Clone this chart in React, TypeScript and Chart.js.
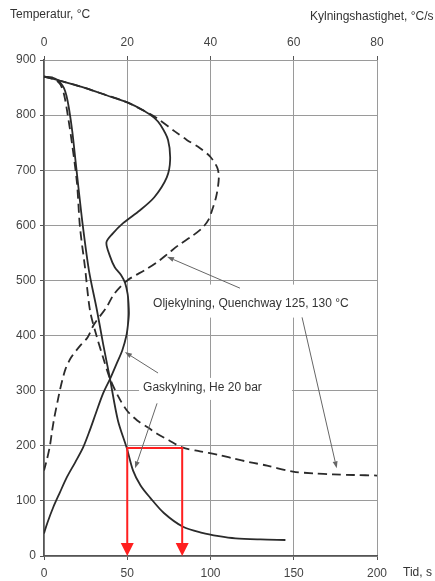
import React, { useEffect, useRef } from 'react';
import { Chart, registerables } from 'chart.js';

Chart.register(...registerables);

// ---- Axis ranges / ticks ----
const timeMax = 200;
const timeStep = 50;
const rateMax = 80;
const rateStep = 20;
const tempMax = 900;
const tempStep = 100;

// ---- Temperature vs time (bottom axis, s) ----
const gasTime = [0, 5, 8, 10, 12, 13.5, 15, 17, 19, 21, 23.4, 27, 31.8, 35.5, 39.6, 44.4, 49.8, 53.5, 58, 63.7, 72, 83.5, 95, 105, 115, 130, 145];
const gasTemp = [870, 868, 864, 858, 849, 835, 812, 770, 715, 660, 597, 518, 446, 385, 322, 246, 195, 155, 128, 106, 78, 53, 42, 36, 32, 30, 29];

const oilTime = [0, 5, 8, 10, 12, 13.8, 16.8, 19.8, 21.6, 24.6, 27.6, 31.5, 35.5, 39.6, 44.5, 49.8, 56, 62.5, 67.9, 75, 83, 93.7, 105.7, 113.5, 124, 134, 149.5, 162, 173.6, 186, 200];
const oilTemp = [870, 868, 862, 855, 838, 809, 749, 677, 597, 524, 446, 400, 360, 322, 290, 264, 246, 233, 222, 210, 197, 190, 183, 177, 170, 164, 153, 150, 148, 147, 146];

// ---- Temperature vs cooling rate (top axis, °C/s) ----
const gasRateTemp = [870, 860, 849, 836, 823, 808, 795, 782, 755, 718, 687, 651, 627, 604, 585, 569, 545, 524, 510, 495, 475, 459, 440, 422, 400, 373, 350, 322, 295, 260, 228, 197, 170, 143, 115, 88, 60, 41];
const gasRate = [0, 5, 10, 15, 20, 24, 26.5, 28, 29.8, 30.3, 29.5, 26.5, 23, 19, 16.5, 15, 15.8, 17, 18.5, 19.5, 20.1, 20.3, 20.4, 20.2, 19.8, 18.8, 17.5, 15.9, 14.2, 12.5, 11, 9.4, 7.5, 5.5, 3.8, 2.2, 0.8, 0];

const oilRateTemp = [870, 860, 849, 836, 823, 808, 795, 770, 755, 740, 724, 705, 690, 670, 650, 630, 610, 595, 580, 565, 550, 535, 520, 500, 475, 451, 420, 397, 380, 360, 340, 319, 300, 282, 252, 225, 199, 175, 155];
const oilRate = [0, 5, 10, 15, 20, 24, 27, 31.5, 34.3, 37.5, 40, 41.6, 42, 41.8, 41.3, 40.5, 39.5, 38, 35.5, 32.5, 30, 27.5, 24.5, 20, 16.8, 15, 12, 10.5, 8.5, 6.5, 5.2, 4.4, 3.8, 3.3, 2.5, 1.9, 1.4, 0.7, 0];

// ---- Red marker (200 °C reached) ----
const markTemp = 196;
const markTimes = [50, 83];

// ---- Labels ----
const yTitle = 'Temperatur, °C';
const x2Title = 'Kylningshastighet, °C/s';
const xTitle = 'Tid, s';
const oilLabel = 'Oljekylning, Quenchway 125, 130 °C';
const gasLabel = 'Gaskylning, He 20 bar';

const FONT = "'Liberation Sans', Arial, sans-serif";
const INK = '#333';
const GRID = '#9a9a9a';

const pts = (xs: number[], ys: number[]) => xs.map((x, i) => ({ x, y: ys[i] }));

function arrow(ctx: CanvasRenderingContext2D, x1: number, y1: number, x2: number, y2: number, len: number, half: number, color: string, width: number) {
  const ang = Math.atan2(y2 - y1, x2 - x1);
  const bx = x2 - len * Math.cos(ang);
  const by = y2 - len * Math.sin(ang);
  ctx.strokeStyle = color;
  ctx.lineWidth = width;
  ctx.beginPath();
  ctx.moveTo(x1, y1);
  ctx.lineTo(bx, by);
  ctx.stroke();
  ctx.fillStyle = color;
  ctx.beginPath();
  ctx.moveTo(x2, y2);
  ctx.lineTo(bx + half * Math.sin(ang), by - half * Math.cos(ang));
  ctx.lineTo(bx - half * Math.sin(ang), by + half * Math.cos(ang));
  ctx.closePath();
  ctx.fill();
}

const annotPlugin = {
  id: 'annot',
  beforeDatasetsDraw(chart: any) {
    const { ctx, scales } = chart;
    const x = scales.x, y = scales.y;
    ctx.save();
    ctx.fillStyle = '#fff';
    ctx.font = `12px ${FONT}`;
    const ox = x.getPixelForValue(65.5), oy = y.getPixelForValue(458);
    const ow = ctx.measureText(oilLabel).width;
    ctx.fillRect(ox - 5, oy - 19, ow + 10, 33);
    const gx = x.getPixelForValue(59.5), gy = y.getPixelForValue(305);
    ctx.fillRect(gx - 4, gy - 10, 153, 22);
    ctx.restore();
  },
  afterDatasetsDraw(chart: any) {
    const { ctx, scales } = chart;
    const x = scales.x, y = scales.y;
    ctx.save();
    const yM = y.getPixelForValue(markTemp);
    const y0 = y.getPixelForValue(0);
    const xa = x.getPixelForValue(markTimes[0]);
    const xb = x.getPixelForValue(markTimes[1]);
    ctx.strokeStyle = '#ff1f1f';
    ctx.lineWidth = 2;
    ctx.beginPath();
    ctx.moveTo(xa, y0 - 10);
    ctx.lineTo(xa, yM);
    ctx.lineTo(xb, yM);
    ctx.lineTo(xb, y0 - 10);
    ctx.stroke();
    ctx.fillStyle = '#ff1f1f';
    for (const xp of [xa, xb]) {
      ctx.beginPath();
      ctx.moveTo(xp, y0);
      ctx.lineTo(xp - 6.5, y0 - 13);
      ctx.lineTo(xp + 6.5, y0 - 13);
      ctx.closePath();
      ctx.fill();
    }
    const P = (t: number, T: number) => [x.getPixelForValue(t), y.getPixelForValue(T)];
    const arrows = [
      [117.7, 486, 73.9, 543],
      [155, 433, 175.8, 159],
      [68.5, 332, 48.6, 370],
      [67.9, 277, 54.7, 159],
    ];
    for (const a of arrows) {
      const [x1, y1] = P(a[0], a[1]);
      const [x2, y2] = P(a[2], a[3]);
      arrow(ctx, x1, y1, x2, y2, 7, 2.5, '#666', 1);
    }
    ctx.fillStyle = INK;
    ctx.font = `12px ${FONT}`;
    ctx.textBaseline = 'middle';
    ctx.textAlign = 'left';
    ctx.fillText(oilLabel, x.getPixelForValue(65.5), y.getPixelForValue(458));
    ctx.fillText(gasLabel, x.getPixelForValue(59.5), y.getPixelForValue(305));
    ctx.restore();
  },
  afterDraw(chart: any) {
    const { ctx } = chart;
    ctx.save();
    ctx.fillStyle = INK;
    ctx.font = `12px ${FONT}`;
    ctx.textBaseline = 'middle';
    ctx.textAlign = 'left';
    ctx.fillText(yTitle, 10, 15);
    ctx.fillText(x2Title, 310, 17);
    ctx.fillText(xTitle, 403, 573);
    ctx.restore();
  },
};

export default function App() {
  const ref = useRef<HTMLCanvasElement | null>(null);
  useEffect(() => {
    if (!ref.current) return;
    const tickFont = { family: FONT, size: 12 };
    const lineBase = { showLine: true, pointRadius: 0, pointHoverRadius: 0, borderColor: '#2b2b2b', borderWidth: 1.8, tension: 0.3, fill: false };
    const chart = new Chart(ref.current, {
      type: 'scatter',
      data: {
        datasets: [
          { ...lineBase, label: 'Gas temp', data: pts(gasTime, gasTemp), xAxisID: 'x', yAxisID: 'y' },
          { ...lineBase, label: 'Oil temp', data: pts(oilTime, oilTemp), xAxisID: 'x', yAxisID: 'y', borderDash: [9, 5] },
          { ...lineBase, label: 'Gas rate', data: pts(gasRate, gasRateTemp), xAxisID: 'x2', yAxisID: 'y' },
          { ...lineBase, label: 'Oil rate', data: pts(oilRate, oilRateTemp), xAxisID: 'x2', yAxisID: 'y', borderDash: [9, 5] },
        ] as any,
      },
      options: {
        animation: false,
        responsive: false,
        events: [],
        layout: { padding: { left: 0, right: 58, top: 0, bottom: 0 } },
        plugins: { legend: { display: false }, tooltip: { enabled: false } },
        scales: {
          x: {
            type: 'linear', position: 'bottom', min: 0, max: timeMax,
            ticks: { stepSize: timeStep, font: tickFont, color: '#444', padding: 6, maxRotation: 0 },
            grid: { color: GRID, lineWidth: 1, tickLength: 4, tickColor: '#555' },
            border: { color: '#555', width: 1.5 },
            afterFit: (s: any) => { s.height = 25; },
          },
          x2: {
            type: 'linear', position: 'top', min: 0, max: rateMax,
            ticks: { stepSize: rateStep, font: tickFont, color: '#444', padding: 6, maxRotation: 0 },
            grid: { drawOnChartArea: false, tickLength: 4, color: '#555' },
            border: { display: false },
            afterFit: (s: any) => { s.height = 60; },
          },
          y: {
            type: 'linear', position: 'left', min: 0, max: tempMax,
            ticks: { stepSize: tempStep, font: tickFont, color: '#444', padding: 4 },
            grid: { color: GRID, lineWidth: 1, tickLength: 4, tickColor: '#555' },
            border: { color: '#555', width: 1.5 },
            afterFit: (s: any) => { s.width = 44; },
          },
        } as any,
      },
      plugins: [annotPlugin],
    });
    return () => chart.destroy();
  }, []);
  return (
    <div style={{ position: 'fixed', left: 0, top: 0, width: 435, height: 581, background: '#fff' }}>
      <canvas ref={ref} width={435} height={581} />
    </div>
  );
}
